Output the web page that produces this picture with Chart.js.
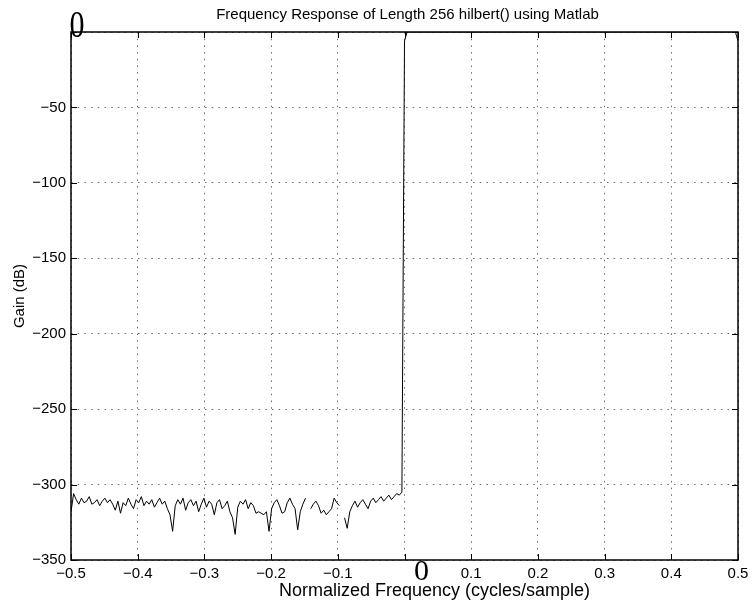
<!DOCTYPE html>
<html>
<head>
<meta charset="utf-8">
<title>Frequency Response of Length 256 hilbert()</title>
<script src="https://cdn.jsdelivr.net/npm/chart.js@4/dist/chart.umd.min.js"></script>
<style>
    html, body { margin: 0; padding: 0; background: #ffffff; }
    canvas { display: block; }
</style>
</head>
<body>
<canvas id="response-chart" width="754" height="602"></canvas>
<script>
// =========================================================
// DATA
// =========================================================

    const chartTitle = "Frequency Response of Length 256 hilbert() using Matlab";
    const xAxisLabel = "Normalized Frequency (cycles/sample)";
    const yAxisLabel = "Gain (dB)";

    // FFT grid: 256 bins over one period, stopband starts at -0.5
    const binWidth = 1 / 256;
    const stopbandStart = -0.5;

    // gain (dB) of the 128 negative-frequency bins
    // (null = exact zero bin, -Inf dB, left as a gap like Matlab does)
    const stopbandGain = [
        -318, -306, -310, -313, -309, -312, -311, -308, -313, -312,
        -310, -314, -311, -309, -312, -310, -313, -317, -311, -319,
        -312, -314, -309, -313, -316, -310, -312, -308, -314, -311,
        -313, -310, -315, -312, -309, -313, -311, -316, -320, -331,
        -314, -310, -313, -309, -317, -312, -310, -314, -311, -318,
        -313, -309, -315, -311, -313, -320, -312, -310, -316, -314,
        -311, -318, -322, -333, -315, -311, -313, -310, -316, -312,
        -314, -319, -318, -319, -320, -318, -331, -316, -312, -310,
        -314, -319, -318, -312, -309, -313, -316, -330, -318, -313,
        -309, null, -316, -313, -311, -314, -319, -317, -320, -318,
        -316, -309, -312, -314, null, -322, -329, -318, -314, -311,
        -315, -312, -310, -313, -316, -311, -309, -312, -310, -308,
        -311, -309, -307, -310, -308, -306, -307, -305
    ];

    // passband (0 .. 0.5), flat at 0 dB with the two edge bins
    const passbandFreq = [0, 0.00390625, 0.49609375, 0.5];
    const passbandGain = [-6, 0, 0, -6];

    const xTickValues = [-0.5, -0.4, -0.3, -0.2, -0.1, 0, 0.1, 0.2, 0.3, 0.4, 0.5];
    const xTickLabels = ["\u22120.5", "\u22120.4", "\u22120.3", "\u22120.2", "\u22120.1", "0", "0.1", "0.2", "0.3", "0.4", "0.5"];

    const yTickValues = [-350, -300, -250, -200, -150, -100, -50, 0];
    const yTickLabels = ["\u2212350", "\u2212300", "\u2212250", "\u2212200", "\u2212150", "\u2212100", "\u221250", "0"];

// =========================================================
// HELPERS
// =========================================================

    const sansFamily = "'Liberation Sans', Arial, Helvetica, sans-serif";
    const serifFamily = "'Liberation Serif', 'Times New Roman', serif";
    const tickLength = 6;

    function buildResponsePoints() {
        const points = [];

        for (let binIndex = 0; binIndex < stopbandGain.length; binIndex++) {
            points.push({
                x: stopbandStart + binIndex * binWidth,
                y: stopbandGain[binIndex]
            });
        }

        for (let edgeIndex = 0; edgeIndex < passbandFreq.length; edgeIndex++) {
            points.push({
                x: passbandFreq[edgeIndex],
                y: passbandGain[edgeIndex]
            });
        }

        return points;
    }

    function fixTicks(values) {
        return function (scale) {
            scale.ticks = values.map(value => ({ value: value }));
        };
    }

    // Matlab puts the 0 labels in a big serif face, so they are drawn here
    const matlabAxesPlugin = {
        id: "matlabAxes",
        afterDraw(chart) {
            const { ctx, chartArea: area, scales: { x, y } } = chart;
            const centerX = (area.left + area.right) / 2;

            ctx.save();

            // --- inward tick marks --- //
            ctx.strokeStyle = "#000000";
            ctx.lineWidth = 1;
            ctx.beginPath();
            xTickValues.forEach(value => {
                const px = Math.round(x.getPixelForValue(value)) + 0.5;
                ctx.moveTo(px, area.bottom);
                ctx.lineTo(px, area.bottom - tickLength);
                ctx.moveTo(px, area.top);
                ctx.lineTo(px, area.top + tickLength);
            });
            yTickValues.forEach(value => {
                const py = Math.round(y.getPixelForValue(value)) + 0.5;
                ctx.moveTo(area.left, py);
                ctx.lineTo(area.left + tickLength, py);
                ctx.moveTo(area.right, py);
                ctx.lineTo(area.right - tickLength, py);
            });
            ctx.stroke();

            // --- axes box --- //
            ctx.lineWidth = 1.5;
            ctx.strokeRect(area.left, area.top, area.right - area.left, area.bottom - area.top);

            // --- serif zero labels --- //
            ctx.fillStyle = "#000000";
            ctx.textAlign = "center";
            ctx.textBaseline = "middle";
            ctx.font = "30px " + serifFamily;
            ctx.fillText(xTickLabels[xTickValues.indexOf(0)], x.getPixelForValue(0) + 17, area.bottom + 12);

            ctx.save();
            ctx.translate(area.left + 6, y.getPixelForValue(0) - 5);
            ctx.scale(1, 1.25);
            ctx.fillText(yTickLabels[yTickValues.indexOf(0)], 0, 0);
            ctx.restore();

            // --- title and x label --- //
            ctx.font = "15px " + sansFamily;
            ctx.fillText(chartTitle, centerX + 3, area.top - 17);

            ctx.font = "18px " + sansFamily;
            ctx.fillText(xAxisLabel, centerX + 30, area.bottom + 31);

            ctx.restore();
        }
    };

// =========================================================
// CHART
// =========================================================

    const responseCanvas = document.getElementById("response-chart");

    const responseChart = new Chart(responseCanvas, {
        type: "line",
        data: {
            datasets: [
                {
                    data: buildResponsePoints(),
                    borderColor: "#000000",
                    borderWidth: 1,
                    pointRadius: 0,
                    tension: 0,
                    fill: false,
                    spanGaps: false
                }
            ]
        },
        options: {
            responsive: false,
            animation: false,
            devicePixelRatio: 1,
            layout: {
                padding: { left: 0, right: 16, top: 32, bottom: 0 }
            },
            plugins: {
                legend: { display: false },
                tooltip: { enabled: false },
                title: { display: false }
            },
            scales: {
                x: {
                    type: "linear",
                    min: -0.5,
                    max: 0.5,
                    afterBuildTicks: fixTicks(xTickValues),
                    afterFit: function (scale) { scale.height = 42; },
                    grid: {
                        color: "#6a6a6a",
                        lineWidth: 1,
                        drawTicks: false
                    },
                    border: { display: false, dash: [1.5, 5.2] },
                    ticks: {
                        color: "#000000",
                        padding: 5,
                        maxRotation: 0,
                        autoSkip: false,
                        font: { family: sansFamily, size: 15 },
                        callback: function (value, index) {
                            return value === 0 ? "" : xTickLabels[index];
                        }
                    }
                },
                y: {
                    type: "linear",
                    min: -350,
                    max: 0,
                    afterBuildTicks: fixTicks(yTickValues),
                    afterFit: function (scale) { scale.width = 71; },
                    grid: {
                        color: "#6a6a6a",
                        lineWidth: 1,
                        drawTicks: false
                    },
                    border: { display: false, dash: [1.5, 5.2] },
                    title: {
                        display: true,
                        text: yAxisLabel,
                        color: "#000000",
                        font: { family: sansFamily, size: 15 },
                        padding: { top: 11, bottom: 0 }
                    },
                    ticks: {
                        color: "#000000",
                        padding: 5,
                        autoSkip: false,
                        font: { family: sansFamily, size: 15 },
                        callback: function (value, index) {
                            return value === 0 ? "" : yTickLabels[index];
                        }
                    }
                }
            }
        },
        plugins: [matlabAxesPlugin]
    });
</script>
</body>
</html>
